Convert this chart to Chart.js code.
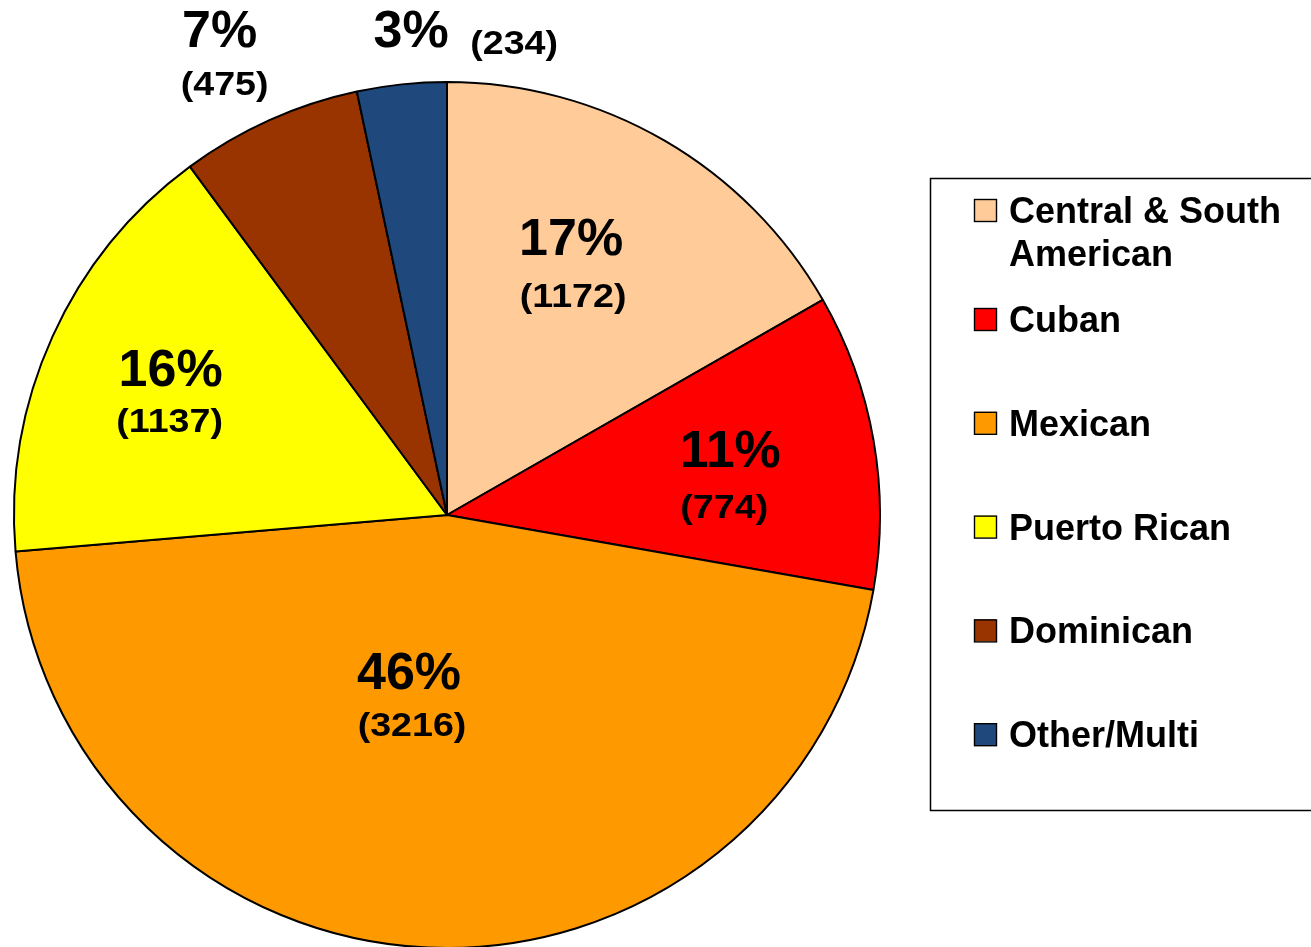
<!DOCTYPE html>
<html><head><meta charset="utf-8">
<script src="https://cdn.jsdelivr.net/npm/chart.js@4/dist/chart.umd.min.js"></script>
<style>
html,body{margin:0;padding:0;background:#fff;overflow:hidden;width:1311px;height:947px}
#wrap{position:relative;width:1311px;height:960px}
</style></head>
<body><div id="wrap"><canvas id="c"></canvas></div>
<script>
const categories = ['Central & South American', 'Cuban', 'Mexican', 'Puerto Rican', 'Dominican', 'Other/Multi'];
const counts = [1172, 774, 3216, 1137, 475, 234];
const sliceColors = ['#FFCC99', '#FF0000', '#FF9900', '#FFFF00', '#993300', '#1F497D'];

// label placement relative to each slice's mid-angle (style only)
const labelLayout = [
  {f: 0.65, p: [-17, -35], c: [-15, 23]},
  {f: 0.65, p: [6, -18],   c: [0, 39]},
  {f: 0.36, p: [-31, 0],   c: [-28, 53]},
  {f: 0.65, p: [-20, -31], c: [-21, 21]},
  {f: 1.10, p: [-32, -52], c: [-27, 2]},
  {f: 1.10, p: [14, -13],  c: [117, 1]}
];

const FONT = '"Liberation Sans", Arial, Helvetica, sans-serif';

const labelPlugin = {
  id: 'sliceLabels',
  afterDatasetsDraw(chart) {
    const ctx = chart.ctx;
    const meta = chart.getDatasetMeta(0);
    const data = chart.data.datasets[0].data;
    const total = data.reduce((a, b) => a + b, 0);
    meta.data.forEach((arc, i) => {
      const lay = labelLayout[i];
      const mid = (arc.startAngle + arc.endAngle) / 2;
      const r = arc.outerRadius * lay.f;
      const ax = arc.x + Math.cos(mid) * r;
      const ay = arc.y + Math.sin(mid) * r;
      const pct = Math.round(data[i] / total * 100) + '%';
      ctx.save();
      ctx.fillStyle = '#000';
      ctx.textAlign = 'center';
      ctx.textBaseline = 'alphabetic';
      ctx.font = 'bold 52px ' + FONT;
      ctx.fillText(pct, ax + lay.p[0], ay + lay.p[1] + 18.5);
      ctx.restore();
      ctx.save();
      ctx.fillStyle = '#000';
      ctx.textAlign = 'center';
      ctx.textBaseline = 'alphabetic';
      ctx.font = 'bold 33px ' + FONT;
      ctx.translate(ax + lay.c[0], ay + lay.c[1] + 12);
      ctx.scale(1.14, 1);
      ctx.fillText('(' + data[i] + ')', 0, 0);
      ctx.restore();
    });
  }
};

const legendPlugin = {
  id: 'boxLegend',
  afterDraw(chart) {
    const ctx = chart.ctx;
    const labels = chart.data.labels;
    const bg = chart.data.datasets[0].backgroundColor;
    ctx.save();
    ctx.strokeStyle = '#000';
    ctx.lineWidth = 1.5;
    ctx.strokeRect(930.5, 178.5, 420, 632);
    ctx.font = 'bold 36px ' + FONT;
    ctx.textBaseline = 'alphabetic';
    ctx.textAlign = 'left';
    const textX = 1009, maxW = 290;
    labels.forEach((lab, i) => {
      const top = i === 0 ? 199 : 308 + (i - 1) * 103.8;
      ctx.fillStyle = bg[i];
      ctx.fillRect(974, top, 22, 22);
      ctx.strokeStyle = '#000';
      ctx.lineWidth = 1.4;
      ctx.strokeRect(974.5, top + 0.5, 22, 22);
      const words = lab.split(' ');
      const lines = [];
      let cur = '';
      words.forEach(w => {
        const t = cur ? cur + ' ' + w : w;
        if (ctx.measureText(t).width > maxW && cur) { lines.push(cur); cur = w; }
        else cur = t;
      });
      lines.push(cur);
      ctx.fillStyle = '#000';
      lines.forEach((ln, k) => ctx.fillText(ln, textX, top + 24 + k * 43));
    });
    ctx.restore();
  }
};

new Chart(document.getElementById('c'), {
  type: 'pie',
  data: {
    labels: categories,
    datasets: [{
      data: counts,
      backgroundColor: sliceColors,
      borderColor: '#000',
      borderWidth: 2,
      radius: 433
    }]
  },
  options: {
    responsive: true,
    maintainAspectRatio: false,
    animation: false,
    rotation: 0,
    layout: {padding: {left: 14, right: 431, top: 82, bottom: 12}},
    plugins: {
      legend: {display: false},
      tooltip: {enabled: false},
      title: {display: false}
    }
  },
  plugins: [labelPlugin, legendPlugin]
});
</script>
</body></html>
